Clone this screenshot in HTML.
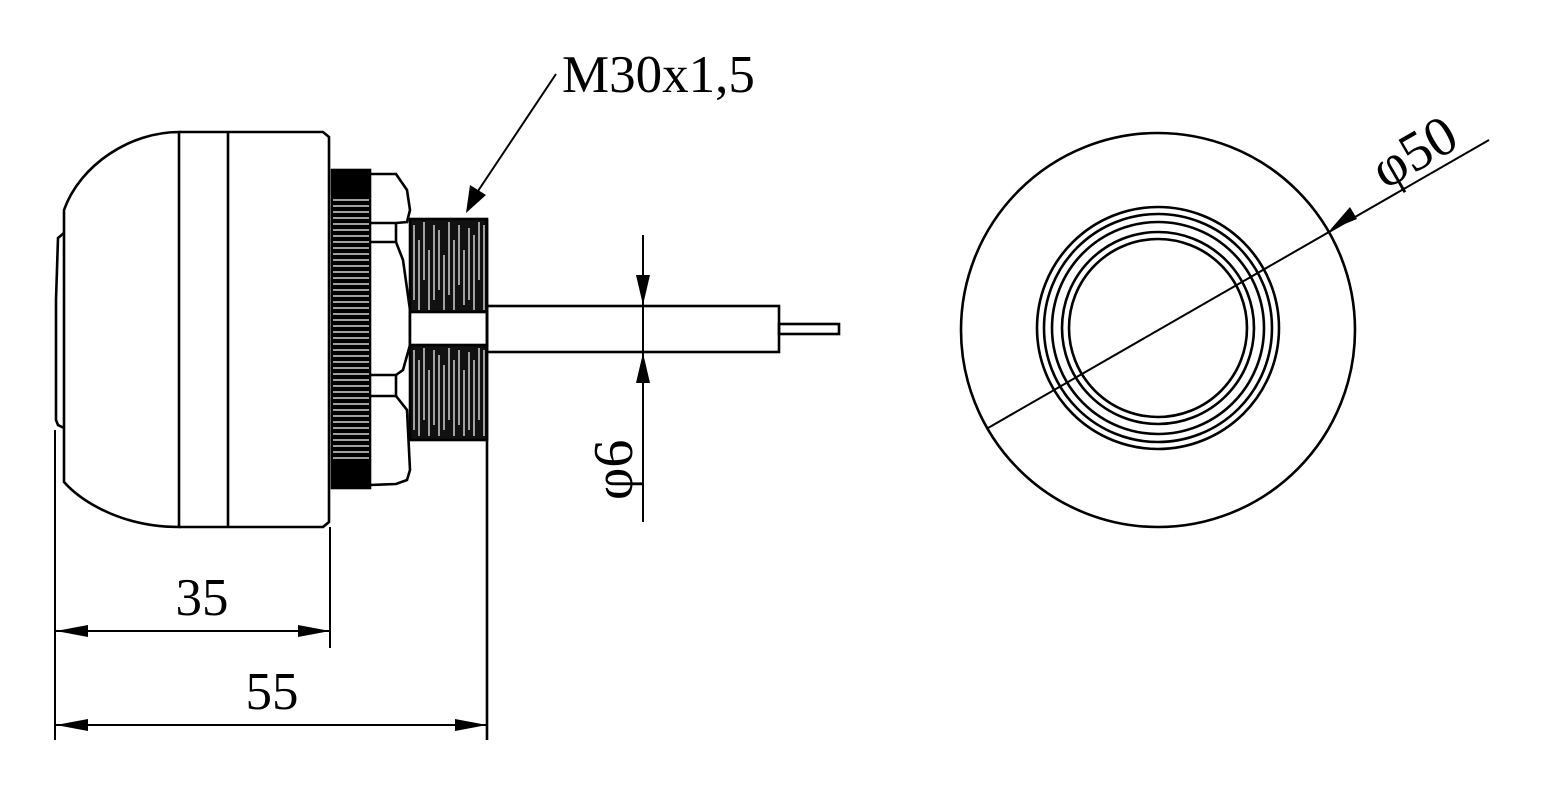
<!DOCTYPE html>
<html><head><meta charset="utf-8"><style>html,body{margin:0;padding:0;background:#fff}svg{display:block}</style></head>
<body>
<svg width="1544" height="797" viewBox="0 0 1544 797" xmlns="http://www.w3.org/2000/svg">
<g fill="none" stroke="#000" stroke-width="2.6">
<path d="M179,132 C130,132 80,165 64,210 L64,482 C80,500 120,527 179,527 Z"/>
<path d="M179,132 L323,132 L329,137 L329,522 L323,527 L179,527"/>
<line x1="228" y1="132" x2="228" y2="527"/>
<path d="M64,233 L58,238 L56,300 L56,420 L58,425 L64,428"/>
<rect x="332" y="170" width="38" height="318" fill="#000"/>
<path d="M370,174 L396,174 L407,190 L410,210 L407,222 L396,223 L370,223"/>
<path d="M370,242 L396,242 L403,260 L410,310 L410,345 L403,370 L396,375 L370,375"/>
<path d="M370,396 L396,396 L407,410 L410,470 L407,480 L396,484 L370,485"/>
<line x1="396" y1="223" x2="396" y2="242"/><line x1="396" y1="375" x2="396" y2="396"/>
<rect x="410" y="219" width="77" height="221" fill="#111"/>
<rect x="410" y="312" width="77" height="33" fill="#fff"/>
<line x1="487" y1="219" x2="487" y2="740"/>
<rect x="487" y="306" width="292" height="46"/>
<rect x="779" y="324" width="60" height="10"/>
<line x1="643" y1="235" x2="643" y2="522" stroke-width="2"/>
<line x1="55" y1="430" x2="55" y2="740" stroke-width="2"/>
<line x1="330" y1="527" x2="330" y2="648" stroke-width="2"/>
<line x1="55" y1="631" x2="330" y2="631" stroke-width="2"/>
<line x1="55" y1="725" x2="487" y2="725" stroke-width="2"/>
<line x1="556" y1="74" x2="472" y2="200" stroke-width="2"/>
<circle cx="1158" cy="330" r="197"/>
<circle cx="1158" cy="328" r="121"/>
<circle cx="1158" cy="328" r="114"/>
<circle cx="1158" cy="328" r="106"/>
<circle cx="1158" cy="328" r="96"/>
<circle cx="1158" cy="328" r="89"/>
<line x1="988" y1="428" x2="1489" y2="140" stroke-width="2"/>
</g>
<g stroke="#fff" stroke-width="1.3">
<path d="M333,200H369M333,206H369M333,212H369M333,218H369M333,224H369M333,230H369M333,236H369M333,242H369M333,248H369M333,254H369M333,260H369M333,266H369M333,272H369M333,278H369M333,284H369M333,290H369M333,296H369M333,302H369M333,308H369M333,314H369M333,320H369M333,326H369M333,332H369M333,338H369M333,344H369M333,350H369M333,356H369M333,362H369M333,368H369M333,374H369M333,380H369M333,386H369M333,392H369M333,398H369M333,404H369M333,410H369M333,416H369M333,422H369M333,428H369M333,434H369M333,440H369M333,446H369M333,452H369M333,458H369"/>
</g>
<g stroke="#fff" stroke-width="1.2">
<path d="M414,225V300M419,240V310M424,222V280M429,250V310M434,225V300M439,230V290M444,255V310M449,222V295M454,240V310M459,225V285M464,250V305M469,228V300M474,235V310M479,222V280M484,225V310"/>
<path d="M414,350V430M419,360V436M424,348V420M429,370V436M434,350V425M439,355V436M444,365V430M449,348V420M454,360V436M459,350V425M464,370V436M469,352V430M474,360V436M479,348V420M484,350V436"/>
</g>
<g fill="#000">
<polygon points="466,213 470,185 486,195"/>
<polygon points="643,305 636,275 650,275"/>
<polygon points="643,353 636,383 650,383"/>
<polygon points="56,631 88,625 88,637"/>
<polygon points="330,631 298,625 298,637"/>
<polygon points="56,725 88,719 88,731"/>
<polygon points="487,725 455,719 455,731"/>
<polygon points="1330,230 1350,207 1357,219"/>
</g>
<g font-family="'Liberation Serif', serif" fill="#000">
<text x="562" y="92" font-size="53">M30x1,5</text>
<text x="202" y="615" font-size="53" text-anchor="middle">35</text>
<text x="272" y="709" font-size="53" text-anchor="middle">55</text>
<text transform="translate(632,500) rotate(-90)" font-size="56">φ6</text>
<text transform="translate(1385,190) rotate(-30)" font-size="56">φ50</text>
</g>
</svg>
</body></html>
